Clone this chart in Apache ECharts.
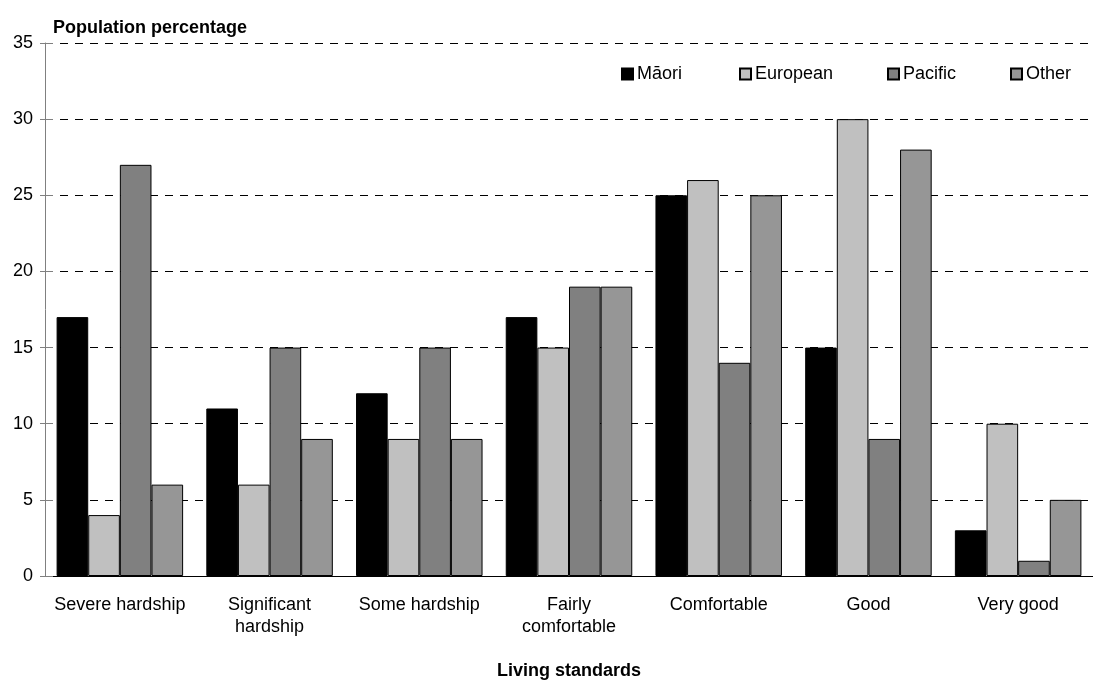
<!DOCTYPE html>
<html>
<head>
<meta charset="utf-8">
<script src="https://cdn.jsdelivr.net/npm/echarts@6/dist/echarts.min.js"></script>
<style>
html, body { margin: 0; padding: 0; background: #fff; }
#chart { width: 1093px; height: 685px; }
</style>
</head>
<body>
<div id="chart"></div>
<script>
var categories = ['Severe hardship', 'Significant\nhardship', 'Some hardship', 'Fairly\ncomfortable', 'Comfortable', 'Good', 'Very good'];
var seriesNames = ['Māori', 'European', 'Pacific', 'Other'];
var maori = [17, 11, 12, 17, 25, 15, 3];
var european = [4, 6, 9, 15, 26, 30, 10];
var pacific = [27, 15, 15, 19, 14, 9, 1];
var other = [6, 9, 9, 19, 25, 28, 5];
var yTicks = [0, 5, 10, 15, 20, 25, 30, 35];

var font = '"Liberation Sans", Arial, sans-serif';

function bar(name, data, color) {
	return {
		name: name,
		type: 'bar',
		data: data,
		barGap: '0%',
		barCategoryGap: '15.5%',
		itemStyle: { color: color, borderColor: '#000', borderWidth: 1 }
	};
}

// one legend per item, placed like the original
var legendLeft = [621, 739, 887, 1010];
var legends = [];
for (var i = 0; i < seriesNames.length; i++) {
	legends.push({
		left: legendLeft[i],
		top: 65,
		padding: 0,
		itemWidth: 11,
		itemHeight: 11,
		itemGap: 0,
		icon: 'rect',
		selectedMode: false,
		textStyle: { fontFamily: font, fontSize: 18, color: '#000', padding: [0, 0, 0, -1] },
		data: [seriesNames[i]]
	});
}

var myChart = echarts.init(document.getElementById('chart'));
var option = {
	animation: false,
	textStyle: { fontFamily: font },
	grid: { left: 45, top: 43, width: 1053, height: 536, containLabel: false },
	legend: legends,
	xAxis: {
		type: 'category',
		data: categories,
		name: 'Living standards',
		nameLocation: 'middle',
		nameGap: 86,
		nameTextStyle: { fontFamily: font, fontSize: 18, fontWeight: 'bold', color: '#000' },
		axisLine: { lineStyle: { color: '#000', width: 1 } },
		axisTick: { show: false },
		axisLabel: { fontFamily: font, fontSize: 18, color: '#000', margin: 18, lineHeight: 22, interval: 0 }
	},
	yAxis: [{
		type: 'value',
		min: 0,
		max: 35,
		interval: 5,
		name: 'Population percentage',
		nameLocation: 'end',
		nameGap: 6,
		nameTextStyle: { fontFamily: font, fontSize: 18, fontWeight: 'bold', color: '#000', align: 'left', padding: [0, 0, 0, 8] },
		axisLine: { show: true, lineStyle: { color: '#808080', width: 1 } },
		axisTick: { show: true, length: 5, lineStyle: { color: '#808080' } },
		axisLabel: { fontFamily: font, fontSize: 18, color: '#000', margin: 12,
			formatter: function (v) { return yTicks.indexOf(v) >= 0 ? String(v) : ''; } },
		splitLine: { show: true, lineStyle: { color: '#000', type: [8, 7], width: 1 } }
	}, {
		// inner half of the crossing tick marks
		type: 'value',
		min: 0,
		max: 35,
		interval: 5,
		position: 'left',
		axisLine: { show: false },
		axisTick: { show: true, inside: true, length: 8, lineStyle: { color: '#808080' } },
		axisLabel: { show: false },
		splitLine: { show: false }
	}],
	series: [
		bar(seriesNames[0], maori, '#000000'),
		bar(seriesNames[1], european, '#c0c0c0'),
		bar(seriesNames[2], pacific, '#808080'),
		bar(seriesNames[3], other, '#969696')
	]
};
myChart.setOption(option);
</script>
</body>
</html>
